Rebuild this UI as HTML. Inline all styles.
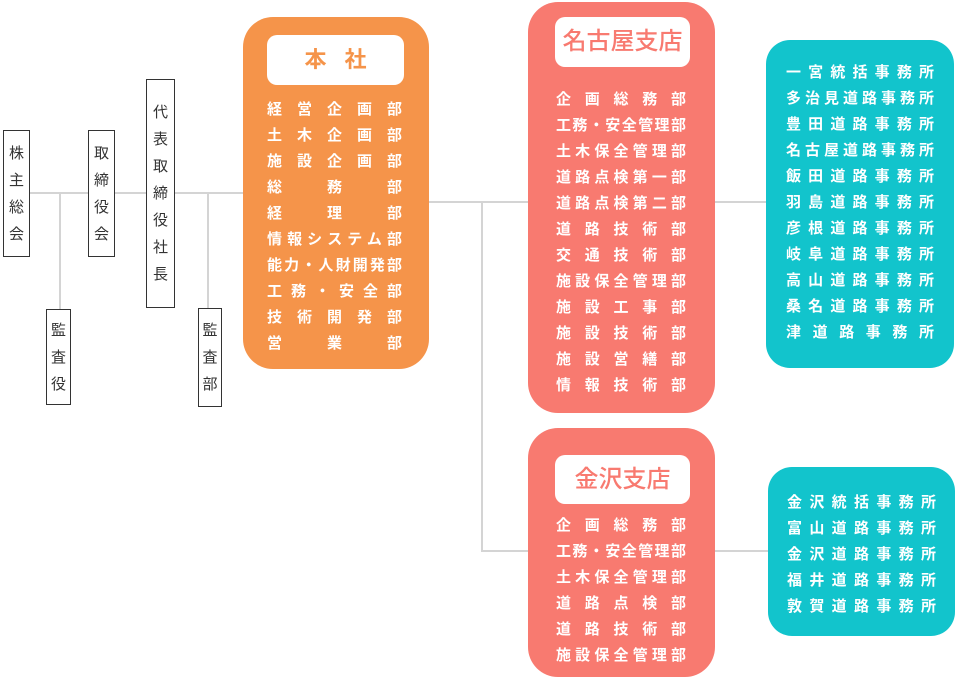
<!DOCTYPE html>
<html><head><meta charset="utf-8"><style>
body{margin:0;width:960px;height:679px;background:#fff;position:relative;overflow:hidden;font-family:"Liberation Sans","Noto Sans CJK JP",sans-serif}
.a{position:absolute}
.ln{position:absolute;background:#d4d4d4}
.vb{position:absolute;border:1px solid #333;background:#fff;box-sizing:border-box;font-size:15px;color:#333;text-align:center;display:flex;flex-direction:column;justify-content:center;align-items:center}
.vb span{display:block;height:27px;line-height:27px}
.box{position:absolute;border-radius:30px}
.hd{position:absolute;background:#fff;border-radius:10px;text-align:center;font-weight:bold}
.list{position:absolute;color:#fff;font-weight:bold;font-size:15px;line-height:26px}
.list div{text-align:justify;text-align-last:justify;white-space:nowrap}
</style></head><body>
<div class="ln" style="left:30px;top:192px;width:213px;height:2px"></div>
<div class="ln" style="left:59px;top:193px;width:2px;height:118px"></div>
<div class="ln" style="left:207px;top:193px;width:2px;height:116px"></div>
<div class="ln" style="left:429px;top:201px;width:99px;height:2px"></div>
<div class="ln" style="left:481px;top:201px;width:2px;height:351px"></div>
<div class="ln" style="left:481px;top:550px;width:47px;height:2px"></div>
<div class="ln" style="left:715px;top:201px;width:51px;height:2px"></div>
<div class="ln" style="left:715px;top:550px;width:53px;height:2px"></div>

<div class="vb" style="left:3px;top:130px;width:27px;height:127px"><span>株</span><span>主</span><span>総</span><span>会</span></div>
<div class="vb" style="left:46px;top:309px;width:25px;height:96px"><span>監</span><span>査</span><span>役</span></div>
<div class="vb" style="left:88px;top:130px;width:27px;height:127px"><span>取</span><span>締</span><span>役</span><span>会</span></div>
<div class="vb" style="left:146px;top:79px;width:29px;height:229px"><span>代</span><span>表</span><span>取</span><span>締</span><span>役</span><span>社</span><span>長</span></div>
<div class="vb" style="left:198px;top:308px;width:24px;height:99px"><span>監</span><span>査</span><span>部</span></div>

<div class="box" style="left:243px;top:17px;width:186px;height:352px;background:#f5944a"></div>
<div class="hd" style="left:267px;top:35px;width:137px;height:50px;line-height:50px;color:#f5944a;font-size:22px;letter-spacing:18px;text-indent:18px">本社</div>
<div class="list" style="left:267px;top:97px;width:135px">
<div>経営企画部</div><div>土木企画部</div><div>施設企画部</div><div>総　務　部</div><div>経　理　部</div><div>情報システム部</div><div>能力・人財開発部</div><div>工務・安全部</div><div>技術開発部</div><div>営　業　部</div></div>

<div class="box" style="left:528px;top:2px;width:187px;height:411px;background:#f87a70"></div>
<div class="hd" style="left:555px;top:17px;width:135px;height:50px;line-height:50px;color:#f87a70;font-size:24px;font-weight:500">名古屋支店</div>
<div class="list" style="left:556px;top:87px;width:130px">
<div>企画総務部</div><div>工務・安全管理部</div><div>土木保全管理部</div><div>道路点検第一部</div><div>道路点検第二部</div><div>道路技術部</div><div>交通技術部</div><div>施設保全管理部</div><div>施設工事部</div><div>施設技術部</div><div>施設営繕部</div><div>情報技術部</div></div>

<div class="box" style="left:528px;top:428px;width:187px;height:249px;background:#f87a70"></div>
<div class="hd" style="left:555px;top:455px;width:135px;height:49px;line-height:49px;color:#f87a70;font-size:24px;font-weight:500">金沢支店</div>
<div class="list" style="left:556px;top:513px;width:130px">
<div>企画総務部</div><div>工務・安全管理部</div><div>土木保全管理部</div><div>道路点検部</div><div>道路技術部</div><div>施設保全管理部</div></div>

<div class="box" style="left:766px;top:40px;width:188px;height:328px;background:#12c4cc;border-radius:24px"></div>
<div class="list" style="left:786px;top:60px;width:148px">
<div>一宮統括事務所</div><div>多治見道路事務所</div><div>豊田道路事務所</div><div>名古屋道路事務所</div><div>飯田道路事務所</div><div>羽島道路事務所</div><div>彦根道路事務所</div><div>岐阜道路事務所</div><div>高山道路事務所</div><div>桑名道路事務所</div><div>津道路事務所</div></div>

<div class="box" style="left:768px;top:467px;width:187px;height:169px;background:#12c4cc;border-radius:24px"></div>
<div class="list" style="left:787px;top:490px;width:149px">
<div>金沢統括事務所</div><div>富山道路事務所</div><div>金沢道路事務所</div><div>福井道路事務所</div><div>敦賀道路事務所</div></div>
</body></html>
